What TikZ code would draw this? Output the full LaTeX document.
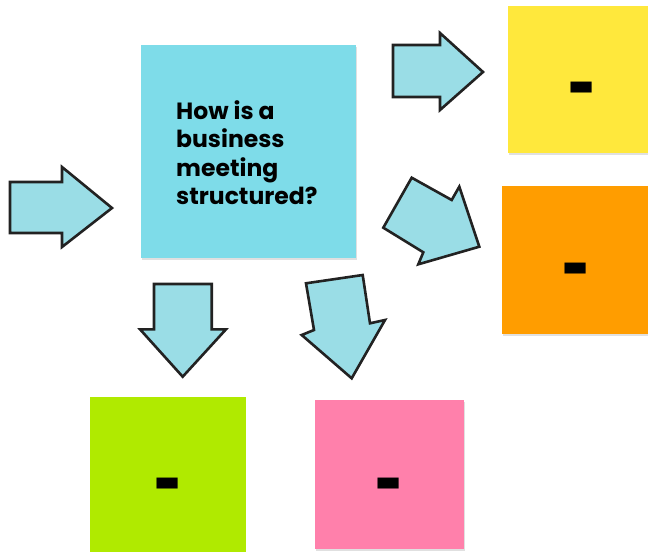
\documentclass[tikz,border=0pt]{standalone}
\usepackage{fontspec}
\setmainfont{Poppins}[BoldFont={* Bold}]
\begin{document}
\begin{tikzpicture}[x=1pt,y=-1pt,
  note/.style={fill=#1, draw=none, inner sep=0pt, anchor=north west},
  shade/.style={fill=black, opacity=0.12, draw=none},
  blockarrow/.style={fill=arrowfill, draw=arrowline, line width=2.6pt, line join=miter},
  dashmark/.style={font=\bfseries\fontsize{48}{48}\selectfont, inner sep=0pt, text=black, yscale=1.6}
]
\definecolor{arrowfill}{HTML}{9ADDE6}
\definecolor{arrowline}{HTML}{222222}
\definecolor{noteblue}{HTML}{7EDCE9}
\definecolor{noteyellow}{HTML}{FFE83C}
\definecolor{noteorange}{HTML}{FF9D00}
\definecolor{notegreen}{HTML}{B0EA00}
\definecolor{notepink}{HTML}{FF80AB}

\useasboundingbox[fill=white] (0,0) rectangle (648,552);

% soft shadows under the sticky notes
\fill[shade] (142,47) rectangle (357,260);
\fill[shade] (509,8) rectangle (648,155);
\fill[shade] (503,188) rectangle (648,336);
\fill[shade] (316,402) rectangle (465,551);

% sticky notes
\node[note=noteblue, minimum width=215, minimum height=213] (q) at (141,45) {};
\node[note=noteyellow, minimum width=140, minimum height=147] (n1) at (508,6) {};
\node[note=noteorange, minimum width=146, minimum height=148] (n2) at (502,186) {};
\node[note=notegreen, minimum width=156, minimum height=155] (n3) at (90,397) {};
\node[note=notepink, minimum width=149, minimum height=149] (n4) at (315,400) {};

% question text
\node[anchor=north west, inner sep=0pt, align=left,
      font=\bfseries\fontsize{23.5}{28.5}\selectfont] (qt) at (176,100)
  {How is a\\business\\meeting\\structured?};

% placeholder marks
\node[dashmark] (d1) at (582,98) {-};
\node[dashmark] (d2) at (576,279) {-};
\node[dashmark] (d3) at (168,494) {-};
\node[dashmark] (d4) at (389,494) {-};

% block arrows
\draw[blockarrow] (10,182) -- (62,182) -- (62,167) -- (112,208) -- (62,247) -- (62,233) -- (10,233) -- cycle;
\draw[blockarrow] (393,45) -- (440,45) -- (440,33) -- (483,72) -- (440,110) -- (440,97) -- (393,97) -- cycle;
\draw[blockarrow] (411.7,177.7) -- (451.7,200) -- (459.3,186.7) -- (479.3,246.7) -- (418.3,264.3) -- (423.3,252.3) -- (383.3,227.7) -- cycle;
\draw[blockarrow] (154,284) -- (211.7,284) -- (211.7,329.3) -- (226,329.3) -- (182.7,376.7) -- (140,329.3) -- (154,329.3) -- cycle;
\draw[blockarrow] (306,283.3) -- (362.7,275) -- (370,323.3) -- (385,320) -- (351.7,378.3) -- (301.7,335) -- (314,330) -- cycle;
\end{tikzpicture}
\end{document}
